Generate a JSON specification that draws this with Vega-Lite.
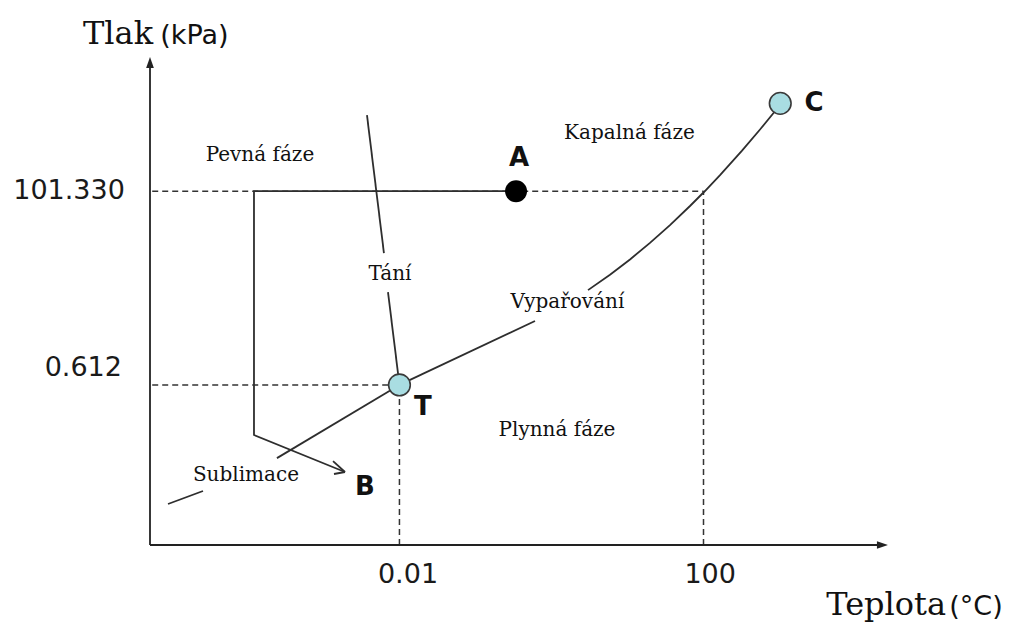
{
  "$schema": "https://vega.github.io/schema/vega-lite/v6.json",
  "width": 738,
  "height": 488,
  "autosize": {"type": "none"},
  "padding": {"left": 150, "top": 57, "right": 126, "bottom": 81},
  "background": "white",
  "config": {"view": {"stroke": null}},
  "datasets": {
    "axes": [
      {"seg": "x", "i": 0, "x": 0, "y": 0},
      {"seg": "x", "i": 1, "x": 98.6, "y": 0},
      {"seg": "y", "i": 0, "x": 0, "y": 0},
      {"seg": "y", "i": 1, "x": 0, "y": 97.8}
    ],
    "guides": [
      {"x": 0.3, "y": 72.5, "x2": 75, "y2": 72.5},
      {"x": 75, "y": 0, "x2": 75, "y2": 72.5},
      {"x": 0.3, "y": 32.8, "x2": 33.8, "y2": 32.8},
      {"x": 33.8, "y": 0, "x2": 33.8, "y2": 32.8}
    ],
    "curves": [
      {"seg": "melt-1", "x": 29.4, "y": 88.1},
      {"seg": "melt-1", "x": 31.7, "y": 59.8},
      {"seg": "melt-2", "x": 32.25, "y": 51.8},
      {"seg": "melt-2", "x": 33.8, "y": 32.8},
      {"seg": "vap-1", "x": 33.8, "y": 32.8},
      {"seg": "vap-1", "x": 52.17, "y": 45.9},
      {"seg": "vap-2", "x": 59.35, "y": 52.23},
      {"seg": "vap-2", "x": 62.33, "y": 55.39},
      {"seg": "vap-2", "x": 65.04, "y": 58.52},
      {"seg": "vap-2", "x": 67.75, "y": 61.91},
      {"seg": "vap-2", "x": 70.46, "y": 65.55},
      {"seg": "vap-2", "x": 73.17, "y": 69.47},
      {"seg": "vap-2", "x": 75.2, "y": 72.54},
      {"seg": "vap-2", "x": 77.24, "y": 75.8},
      {"seg": "vap-2", "x": 80.22, "y": 80.8},
      {"seg": "vap-2", "x": 82.66, "y": 85.14},
      {"seg": "vap-2", "x": 84.82, "y": 89.14},
      {"seg": "vap-2", "x": 85.37, "y": 90.3},
      {"seg": "sub-1", "x": 17.2, "y": 17.8},
      {"seg": "sub-1", "x": 33.8, "y": 32.8},
      {"seg": "sub-2", "x": 2.44, "y": 8.4},
      {"seg": "sub-2", "x": 7.18, "y": 11.07}
    ],
    "route": [
      {"seg": "path", "i": 0, "x": 49.6, "y": 72.5},
      {"seg": "path", "i": 1, "x": 14.09, "y": 72.5},
      {"seg": "path", "i": 2, "x": 14.09, "y": 22.54},
      {"seg": "path", "i": 3, "x": 26.42, "y": 14.96},
      {"seg": "head-1", "i": 0, "x": 24.8, "y": 17.2},
      {"seg": "head-1", "i": 1, "x": 26.42, "y": 14.96},
      {"seg": "head-2", "i": 0, "x": 24.93, "y": 14.55},
      {"seg": "head-2", "i": 1, "x": 26.42, "y": 14.96}
    ],
    "states": [
      {"name": "A", "kind": "state", "x": 49.6, "y": 72.5},
      {"name": "T", "kind": "special", "x": 33.8, "y": 32.8},
      {"name": "C", "kind": "special", "x": 85.4, "y": 90.5}
    ],
    "labels": [
      {"role": "ytick", "text": "101.330", "x": -3.4, "y": 72.5},
      {"role": "ytick", "text": "0.612", "x": -3.8, "y": 36.3},
      {"role": "xtick", "text": "0.01", "x": 34.96, "y": -6.15},
      {"role": "xtick", "text": "100", "x": 75.9, "y": -6.15},
      {"role": "point", "text": "A", "x": 50.0, "y": 79.3},
      {"role": "point", "text": "C", "x": 89.97, "y": 90.57},
      {"role": "point", "text": "T", "x": 36.99, "y": 28.28},
      {"role": "point", "text": "B", "x": 29.13, "y": 11.89},
      {"role": "phase", "text": "Pevná fáze", "x": 14.9, "y": 79.9},
      {"role": "phase", "text": "Kapalná fáze", "x": 64.97, "y": 84.43},
      {"role": "phase", "text": "Tání", "x": 32.52, "y": 55.5},
      {"role": "phase", "text": "Vypařování", "x": 56.57, "y": 49.8},
      {"role": "phase", "text": "Plynná fáze", "x": 55.15, "y": 23.57},
      {"role": "phase", "text": "Sublimace", "x": 13.0, "y": 14.34},
      {"role": "title", "text": "Tlak", "x": 0.41, "y": 102.7},
      {"role": "title", "text": "Teplota", "x": 107.86, "y": -14.34},
      {"role": "unit", "text": "(kPa)", "x": 1.4, "y": 102.7},
      {"role": "unit", "text": "(°C)", "x": 108.3, "y": -14.34}
    ]
  },
  "encoding": {
    "x": {"field": "x", "type": "quantitative", "scale": {"domain": [0, 100], "nice": false, "zero": false}, "axis": null},
    "y": {"field": "y", "type": "quantitative", "scale": {"domain": [0, 100], "nice": false, "zero": false}, "axis": null}
  },
  "layer": [
    {
      "data": {"name": "guides"},
      "mark": {"type": "rule", "color": "#333333", "strokeWidth": 1.5, "strokeDash": [6, 4]},
      "encoding": {
        "x2": {"field": "x2"},
        "y2": {"field": "y2"}
      }
    },
    {
      "data": {"name": "axes"},
      "mark": {"type": "line", "color": "#222222", "strokeWidth": 1.8},
      "encoding": {"detail": {"field": "seg"}, "order": {"field": "i"}}
    },
    {
      "data": {"values": [{"x": 0, "y": 98.87}]},
      "mark": {"type": "point", "shape": "M0,-1L0.7,1L-0.7,1Z", "filled": true, "size": 121, "color": "#222222", "opacity": 1}
    },
    {
      "data": {"values": [{"x": 99.25, "y": 0}]},
      "mark": {"type": "point", "shape": "M1,0L-1,0.7L-1,-0.7Z", "filled": true, "size": 121, "color": "#222222", "opacity": 1}
    },
    {
      "data": {"name": "curves"},
      "mark": {"type": "line", "color": "#2e2e2e", "strokeWidth": 1.8, "interpolate": "linear"},
      "encoding": {"detail": {"field": "seg"}}
    },
    {
      "data": {"name": "route"},
      "mark": {"type": "line", "color": "#2e2e2e", "strokeWidth": 1.8, "strokeJoin": "miter"},
      "encoding": {"detail": {"field": "seg"}, "order": {"field": "i"}}
    },
    {
      "data": {"name": "states"},
      "transform": [{"filter": "datum.kind === 'state'"}],
      "mark": {"type": "point", "shape": "circle", "filled": true, "size": 484, "color": "#000000", "opacity": 1}
    },
    {
      "data": {"name": "states"},
      "transform": [{"filter": "datum.kind === 'special'"}],
      "mark": {"type": "point", "shape": "circle", "filled": true, "size": 470, "fill": "#a9dde2", "stroke": "#3a3a3a", "strokeWidth": 1.6, "opacity": 1, "fillOpacity": 1}
    },
    {
      "data": {"name": "labels"},
      "transform": [{"filter": "datum.role === 'ytick'"}],
      "mark": {"type": "text", "font": "DejaVu Sans", "fontSize": 27, "align": "right", "baseline": "middle", "color": "#1a1a1a"},
      "encoding": {"text": {"field": "text"}}
    },
    {
      "data": {"name": "labels"},
      "transform": [{"filter": "datum.role === 'xtick'"}],
      "mark": {"type": "text", "font": "DejaVu Sans", "fontSize": 27, "align": "center", "baseline": "middle", "color": "#1a1a1a"},
      "encoding": {"text": {"field": "text"}}
    },
    {
      "data": {"name": "labels"},
      "transform": [{"filter": "datum.role === 'point'"}],
      "mark": {"type": "text", "font": "DejaVu Sans", "fontWeight": "bold", "fontSize": 26, "align": "center", "baseline": "middle", "color": "#111111"},
      "encoding": {"text": {"field": "text"}}
    },
    {
      "data": {"name": "labels"},
      "transform": [{"filter": "datum.role === 'phase'"}],
      "mark": {"type": "text", "font": "DejaVu Serif", "fontSize": 20, "align": "center", "baseline": "middle", "color": "#111111"},
      "encoding": {"text": {"field": "text"}}
    },
    {
      "data": {"name": "labels"},
      "transform": [{"filter": "datum.role === 'title'"}],
      "mark": {"type": "text", "font": "DejaVu Serif", "fontSize": 32, "align": "right", "baseline": "alphabetic", "color": "#111111"},
      "encoding": {"text": {"field": "text"}}
    },
    {
      "data": {"name": "labels"},
      "transform": [{"filter": "datum.role === 'unit'"}],
      "mark": {"type": "text", "font": "DejaVu Sans", "fontSize": 27, "align": "left", "baseline": "alphabetic", "color": "#111111"},
      "encoding": {"text": {"field": "text"}}
    }
  ]
}
